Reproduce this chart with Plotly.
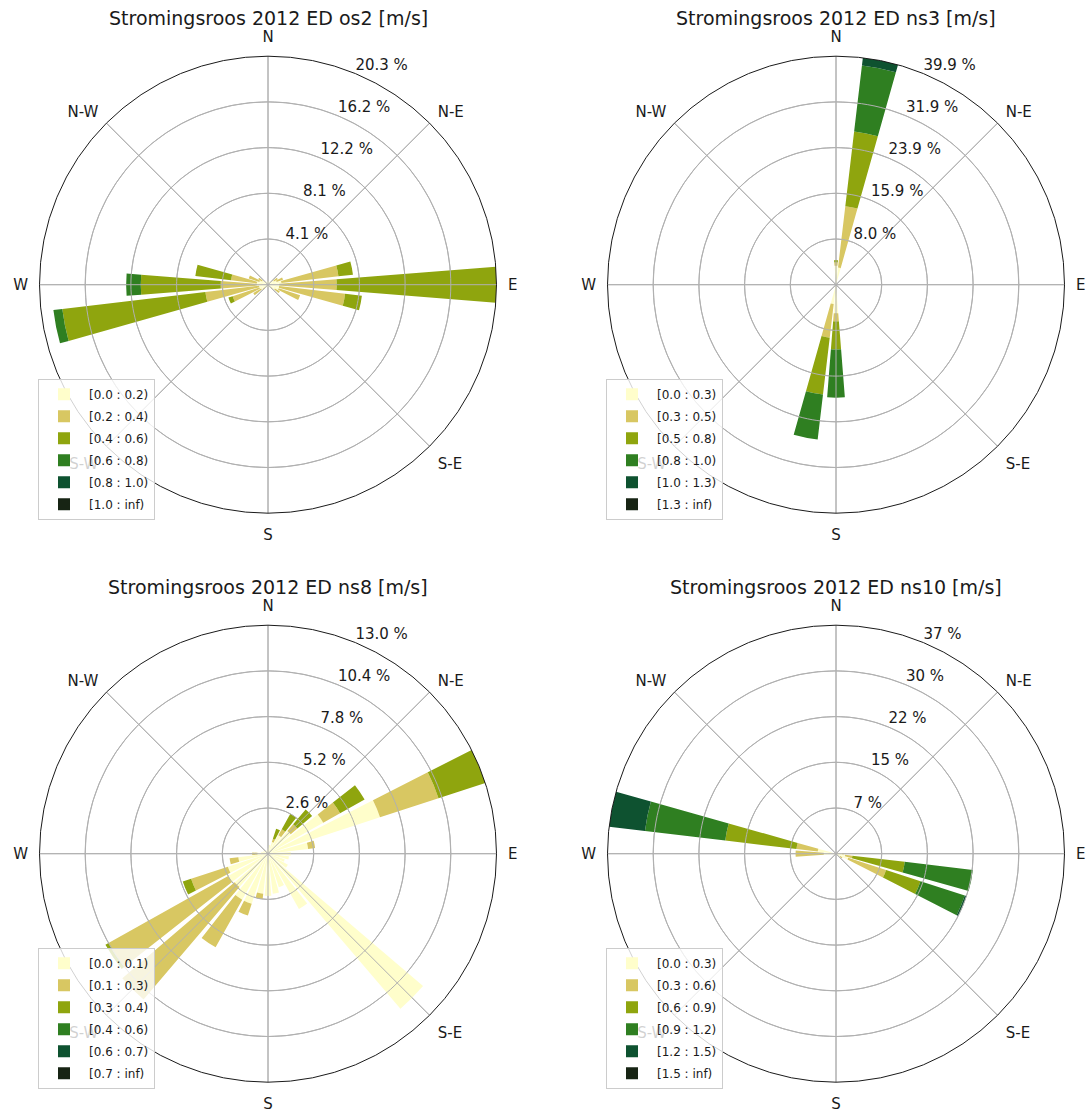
import plotly.graph_objects as go

# Compass sectors (32 bins of 11.25 deg), bar opening 0.8 of the sector
DIRECTIONS = [0.0, 11.25, 22.5, 33.75, 45.0, 56.25, 67.5, 78.75,
              90.0, 101.25, 112.5, 123.75, 135.0, 146.25, 157.5, 168.75,
              180.0, 191.25, 202.5, 213.75, 225.0, 236.25, 247.5, 258.75,
              270.0, 281.25, 292.5, 303.75, 315.0, 326.25, 337.5, 348.75]
COMPASS_ANGLES = [0, 45, 90, 135, 180, 225, 270, 315]
COMPASS_LABELS = ["N", "N-E", "E", "S-E", "S", "S-W", "W", "N-W"]

SPEED_COLORS = ["#fffecb", "#d8c762", "#8fa50e", "#2f7f21", "#0e5230", "#172414"]

# ---- os2 ----
os2_bins = ["[0.0 : 0.2)", "[0.2 : 0.4)", "[0.4 : 0.6)", "[0.6 : 0.8)", "[0.8 : 1.0)", "[1.0 : inf)"]
os2_s0 = [0.3, 0.3, 0.3, 0.3, 0.4, 0.6, 0.8, 1.2, 1.0, 1.0, 1.0, 0.7, 0.4, 0.3, 0.2, 0.2,
          0.2, 0.2, 0.2, 0.3, 0.4, 0.7, 0.8, 0.8, 1.0, 1.0, 0.8, 0.6, 0.4, 0.3, 0.3, 0.3]
os2_s1 = [0, 0, 0, 0, 0, 0.4, 0.6, 5.1, 5.1, 5.9, 2.0, 0.5, 0.1, 0, 0, 0,
          0, 0, 0, 0, 0.2, 0.8, 2.5, 4.8, 3.2, 2.3, 1.0, 0.4, 0, 0, 0, 0]
os2_s2 = [0, 0, 0, 0, 0, 0, 0, 1.3, 14.2, 1.5, 0, 0, 0, 0, 0, 0,
          0, 0, 0, 0, 0, 0, 0.4, 12.8, 7.1, 3.2, 0, 0, 0, 0, 0, 0]
os2_s3 = [0, 0, 0, 0, 0, 0, 0, 0, 0, 0, 0, 0, 0, 0, 0, 0,
          0, 0, 0, 0, 0, 0, 0, 0.8, 1.3, 0, 0, 0, 0, 0, 0, 0]
os2_s4 = [0] * 32
os2_s5 = [0] * 32
os2_rlabels = ["4.1 %", "8.1 %", "12.2 %", "16.2 %", "20.3 %"]

# ---- ns3 ----
ns3_bins = ["[0.0 : 0.3)", "[0.3 : 0.5)", "[0.5 : 0.8)", "[0.8 : 1.0)", "[1.0 : 1.3)", "[1.3 : inf)"]
ns3_s0 = [3.3, 3.0, 0, 0, 0, 0, 0, 0, 0, 0, 0, 0, 0, 0, 0, 0,
          5.0, 3.4, 0, 0, 0, 0, 0, 0, 0, 0, 0, 0, 0, 0, 0, 0]
ns3_s1 = [0.6, 10.8, 0, 0, 0, 0, 0, 0, 0, 0, 0, 0, 0, 0, 0, 0,
          1.4, 5.9, 0, 0, 0, 0, 0, 0, 0, 0, 0, 0, 0, 0, 0, 0]
ns3_s2 = [0.4, 13.1, 0, 0, 0, 0, 0, 0, 0, 0, 0, 0, 0, 0, 0, 0,
          4.9, 10.0, 0, 0, 0, 0, 0, 0, 0, 0, 0, 0, 0, 0, 0, 0]
ns3_s3 = [0, 11.6, 0, 0, 0, 0, 0, 0, 0, 0, 0, 0, 0, 0, 0, 0,
          8.4, 7.9, 0, 0, 0, 0, 0, 0, 0, 0, 0, 0, 0, 0, 0, 0]
ns3_s4 = [0, 1.36, 0, 0, 0, 0, 0, 0, 0, 0, 0, 0, 0, 0, 0, 0,
          0, 0, 0, 0, 0, 0, 0, 0, 0, 0, 0, 0, 0, 0, 0, 0]
ns3_s5 = [0] * 32
ns3_rlabels = ["8.0 %", "15.9 %", "23.9 %", "31.9 %", "39.9 %"]

# ---- ns8 ----
ns8_bins = ["[0.0 : 0.1)", "[0.1 : 0.3)", "[0.3 : 0.4)", "[0.4 : 0.6)", "[0.6 : 0.7)", "[0.7 : inf)"]
ns8_s0 = [0.3, 0.5, 0.7, 1.2, 1.7, 3.6, 6.7, 2.3, 1.3, 1.2, 1.0, 1.3, 11.6, 3.6, 2.0, 2.3,
          2.4, 2.3, 3.0, 3.0, 2.5, 2.6, 2.4, 1.7, 0.6, 0.4, 0.3, 0.3, 0.2, 0.2, 0.2, 0.2]
ns8_s1 = [0, 0, 0.2, 0.4, 0.5, 1.1, 3.5, 0.4, 0, 0, 0, 0, 0, 0, 0, 0,
          0, 0.3, 0.7, 3.1, 8.4, 7.8, 2.2, 0.5, 0.3, 0, 0, 0, 0, 0, 0, 0]
ns8_s2 = [0, 0, 0.6, 1.0, 1.1, 1.6, 2.8, 0, 0, 0, 0, 0, 0, 0, 0, 0,
          0, 0, 0, 0, 0, 0.2, 0.5, 0, 0, 0, 0, 0, 0, 0, 0, 0]
ns8_s3 = [0] * 32
ns8_s4 = [0] * 32
ns8_s5 = [0] * 32
ns8_rlabels = ["2.6 %", "5.2 %", "7.8 %", "10.4 %", "13.0 %"]

# ---- ns10 ----
ns10_bins = ["[0.0 : 0.3)", "[0.3 : 0.6)", "[0.6 : 0.9)", "[0.9 : 1.2)", "[1.2 : 1.5)", "[1.5 : inf)"]
ns10_s0 = [0.2, 0, 0, 0, 0, 0, 0, 0.5, 1.0, 1.5, 2.1, 0.8, 0.3, 0, 0, 0,
           0, 0, 0, 0, 0, 0, 0, 0.5, 2.0, 3.0, 0.3, 0, 0, 0, 0, 0]
ns10_s1 = [0, 0, 0, 0, 0, 0, 0, 0, 0.3, 1.2, 6.5, 0.4, 0, 0, 0, 0,
           0, 0, 0, 0, 0, 0, 0, 0, 4.6, 3.5, 0, 0, 0, 0, 0, 0]
ns10_s2 = [0, 0, 0, 0, 0, 0, 0, 0, 0, 8.6, 5.9, 0, 0, 0, 0, 0,
           0, 0, 0, 0, 0, 0, 0, 0, 0, 11.7, 0, 0, 0, 0, 0, 0]
ns10_s3 = [0, 0, 0, 0, 0, 0, 0, 0, 0, 11.2, 7.6, 0, 0, 0, 0, 0,
           0, 0, 0, 0, 0, 0, 0, 0, 0, 13.2, 0, 0, 0, 0, 0, 0]
ns10_s4 = [0, 0, 0, 0, 0, 0, 0, 0, 0, 0, 0.3, 0, 0, 0, 0, 0,
           0, 0, 0, 0, 0, 0, 0, 0, 0, 5.9, 0, 0, 0, 0, 0, 0]
ns10_s5 = [0] * 32
ns10_rlabels = ["7 %", "15 %", "22 %", "30 %", "37 %"]

TITLE_BASE = "Stromingsroos 2012 ED {} [m/s]"

panels = [
    ("os2", os2_bins, [os2_s0, os2_s1, os2_s2, os2_s3, os2_s4, os2_s5], os2_rlabels),
    ("ns3", ns3_bins, [ns3_s0, ns3_s1, ns3_s2, ns3_s3, ns3_s4, ns3_s5], ns3_rlabels),
    ("ns8", ns8_bins, [ns8_s0, ns8_s1, ns8_s2, ns8_s3, ns8_s4, ns8_s5], ns8_rlabels),
    ("ns10", ns10_bins, [ns10_s0, ns10_s1, ns10_s2, ns10_s3, ns10_s4, ns10_s5], ns10_rlabels),
]

# page geometry (pixels)
W, H = 1087, 1111
R = 228.5
centers = [(268, 284.7), (836, 284.7), (268, 853.7), (836, 853.7)]
FONT = "DejaVu Sans"
GRID = "#b0b0b0"

fig = go.Figure()
layout_extra = {}
annotations = []

for i, (station, bins, series, rlabels) in enumerate(panels):
    pid = "polar" if i == 0 else f"polar{i + 1}"
    lid = "legend" if i == 0 else f"legend{i + 1}"
    totals = [sum(s[k] for s in series) for k in range(len(DIRECTIONS))]
    rmax = max(totals)
    rings = [rmax * k / 5 for k in range(1, 6)]

    for j, (label, vals) in enumerate(zip(bins, series)):
        fig.add_trace(go.Barpolar(
            r=vals, theta=DIRECTIONS, width=11.25 * 0.8,
            name=label, subplot=pid, legend=lid, legendgroup=f"{station}{j}",
            marker=dict(color=SPEED_COLORS[j], line=dict(width=0)),
            hoverinfo="skip",
        ))

    # grid drawn over the bars
    ring_r, ring_t = [], []
    for rv in rings[:-1]:
        ring_r += [rv] * 181 + [None]
        ring_t += [t * 2 for t in range(181)] + [None]
    spoke_r, spoke_t = [], []
    for a in COMPASS_ANGLES:
        spoke_r += [0, rmax, None]
        spoke_t += [a, a, None]
    fig.add_trace(go.Scatterpolar(r=ring_r + spoke_r, theta=ring_t + spoke_t, mode="lines",
                                  line=dict(color=GRID, width=1), subplot=pid,
                                  showlegend=False, hoverinfo="skip"))
    # radial labels
    fig.add_trace(go.Scatterpolar(r=rings, theta=[22.5] * 5, mode="text", text=rlabels,
                                  textposition="top right", cliponaxis=False,
                                  textfont=dict(family=FONT, size=15, color="#1a1a1a"),
                                  subplot=pid, showlegend=False, hoverinfo="skip"))

    cx, cy = centers[i]
    layout_extra[pid] = dict(
        domain=dict(x=[(cx - R) / W, (cx + R) / W], y=[1 - (cy + R) / H, 1 - (cy - R) / H]),
        bgcolor="white",
        barmode="stack",
        angularaxis=dict(rotation=90, direction="clockwise", tickmode="array",
                         tickvals=COMPASS_ANGLES, ticktext=COMPASS_LABELS,
                         showline=True, linecolor="#1a1a1a", linewidth=1,
                         showgrid=True, gridcolor=GRID, gridwidth=1,
                         ticks="outside", ticklen=8, tickcolor="rgba(0,0,0,0)",
                         tickfont=dict(family=FONT, size=15, color="#1a1a1a")),
        radialaxis=dict(range=[0, rmax], tickmode="array", tickvals=rings,
                        showticklabels=False, ticks="", showline=False,
                        showgrid=True, gridcolor=GRID, gridwidth=1),
    )
    layout_extra[lid] = dict(
        x=(cx - 230) / W, y=1 - (cy + 94) / H, xanchor="left", yanchor="top",
        bgcolor="rgba(255,255,255,0.8)", bordercolor="#cccccc", borderwidth=1,
        font=dict(family=FONT, size=12, color="#1a1a1a"),
        itemwidth=40, tracegroupgap=3, traceorder="grouped",
    )
    annotations.append(dict(
        text=TITLE_BASE.format(station), x=cx / W, y=1 - (cy - 267) / H,
        xref="paper", yref="paper", xanchor="center", yanchor="middle",
        showarrow=False, font=dict(family=FONT, size=19, color="#1a1a1a"),
    ))

fig.update_layout(
    width=W, height=H, margin=dict(l=0, r=0, t=0, b=0),
    paper_bgcolor="white", plot_bgcolor="white",
    font=dict(family=FONT),
    annotations=annotations,
    **layout_extra,
)

fig.write_html("out.html")
